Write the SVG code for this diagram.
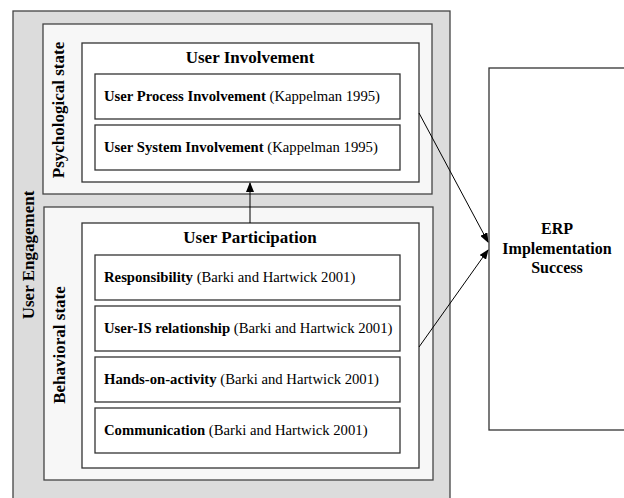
<svg xmlns="http://www.w3.org/2000/svg" width="624" height="498" viewBox="0 0 624 498">
<style>
text{font-family:"Liberation Serif","Times New Roman",serif;fill:#000}
.b{font-weight:bold}
.t{font-size:17px;font-weight:bold}
.e{font-size:16px;font-weight:bold}
.i{font-size:14.7px}
.box{fill:#fff;stroke:#333;stroke-width:1.3}
.state{fill:#f7f7f7;stroke:#444;stroke-width:1.3}
.ln{stroke:#000;stroke-width:1;fill:none}
</style>
<defs>
<marker id="ah" markerWidth="10" markerHeight="8" refX="9" refY="4" orient="auto" markerUnits="userSpaceOnUse">
<path d="M0,0 L10,4 L0,8 Z" fill="#000"/>
</marker>
</defs>
<g id="engagement">
<rect x="13" y="11" width="437" height="500" fill="#dcdcdc" stroke="#444" stroke-width="1.3"/>
<text class="t" transform="translate(34,255) rotate(-90)" text-anchor="middle">User Engagement</text>
</g>
<g id="psychological">
<rect class="state" x="43" y="24" width="389" height="170"/>
<text class="t" transform="translate(64,110) rotate(-90)" text-anchor="middle">Psychological state</text>
</g>
<g id="involvement">
<rect class="box" x="82" y="43" width="337" height="139"/>
<text class="t" x="250" y="63" text-anchor="middle">User Involvement</text>
</g>
<g id="upi">
<rect class="box" x="95" y="74" width="305" height="45"/>
<text class="i" x="104" y="101"><tspan class="b">User Process Involvement</tspan> (Kappelman 1995)</text>
</g>
<g id="usi">
<rect class="box" x="95" y="125" width="305" height="45"/>
<text class="i" x="104" y="152"><tspan class="b">User System Involvement</tspan> (Kappelman 1995)</text>
</g>
<g id="behavioral">
<rect class="state" x="44" y="207" width="389" height="273"/>
<text class="t" transform="translate(65,345) rotate(-90)" text-anchor="middle">Behavioral state</text>
</g>
<g id="participation">
<rect class="box" x="82" y="223" width="337" height="245"/>
<text class="t" x="250" y="243" text-anchor="middle">User Participation</text>
</g>
<g id="responsibility">
<rect class="box" x="95" y="255" width="305" height="45"/>
<text class="i" x="104" y="282"><tspan class="b">Responsibility</tspan> (Barki and Hartwick 2001)</text>
</g>
<g id="userIS">
<rect class="box" x="95" y="306" width="305" height="45"/>
<text class="i" x="104" y="333"><tspan class="b">User-IS relationship</tspan> (Barki and Hartwick 2001)</text>
</g>
<g id="handson">
<rect class="box" x="95" y="357" width="305" height="45"/>
<text class="i" x="104" y="384"><tspan class="b">Hands-on-activity</tspan> (Barki and Hartwick 2001)</text>
</g>
<g id="communication">
<rect class="box" x="95" y="408" width="305" height="45"/>
<text class="i" x="104" y="435"><tspan class="b">Communication</tspan> (Barki and Hartwick 2001)</text>
</g>
<g id="erp">
<rect class="box" x="489" y="68" width="140" height="362"/>
<text class="e" x="557" y="234" text-anchor="middle">ERP</text>
<text class="e" x="557" y="254" text-anchor="middle">Implementation</text>
<text class="e" x="557" y="273" text-anchor="middle">Success</text>
</g>
<g id="connectors">
<line class="ln" x1="250" y1="223" x2="250" y2="183" marker-end="url(#ah)"/>
<line class="ln" x1="419" y1="113" x2="488" y2="242" marker-end="url(#ah)"/>
<line class="ln" x1="419" y1="347" x2="488" y2="250" marker-end="url(#ah)"/>
</g>
</svg>
